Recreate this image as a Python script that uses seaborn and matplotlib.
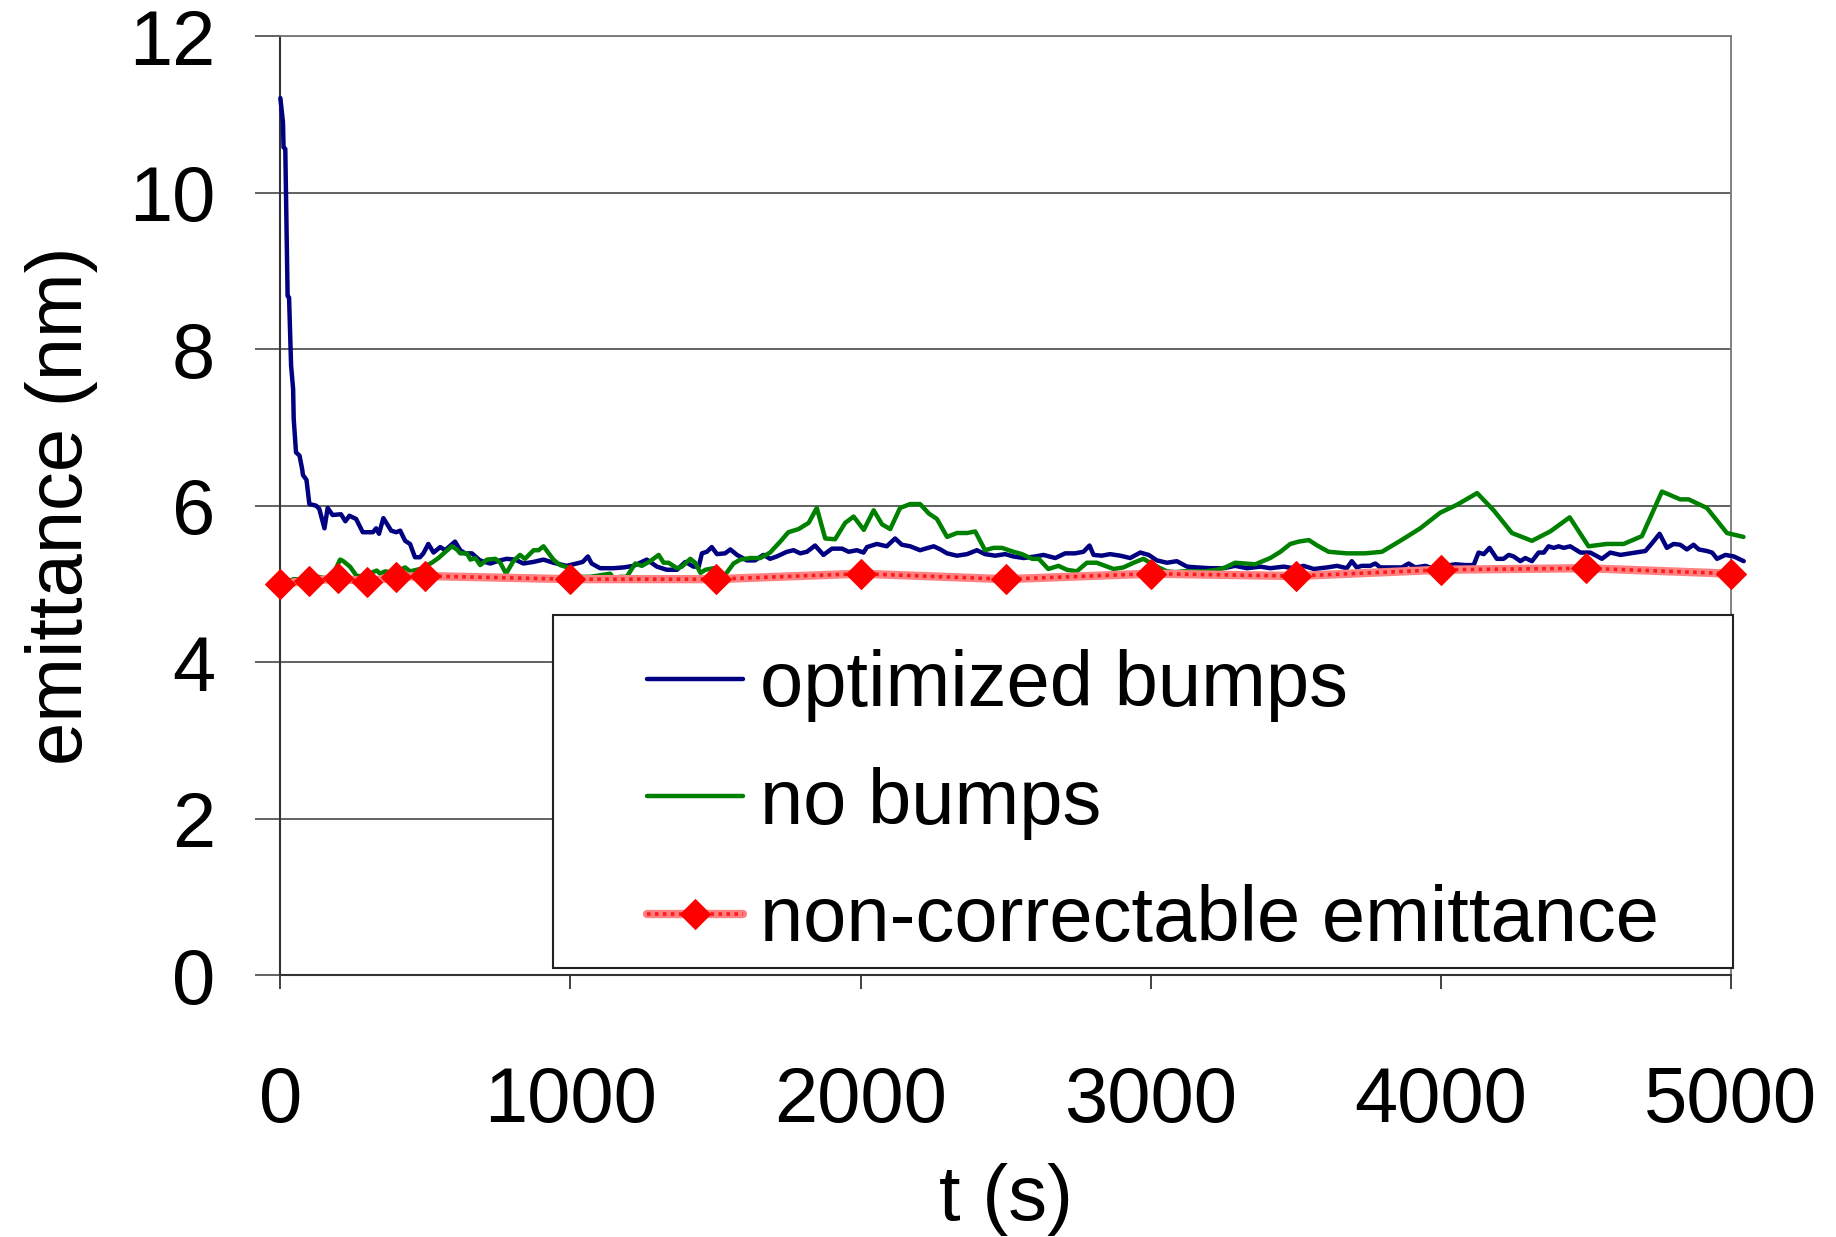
import matplotlib
matplotlib.use("Agg")
import matplotlib.pyplot as plt
from matplotlib.patches import Rectangle
from matplotlib.legend_handler import HandlerTuple
import seaborn as sns
import pandas as pd

# ---- data ----
t_opt = [0, 9, 11, 17, 25, 30, 37, 44, 46, 54, 66, 75, 78, 90, 100, 123, 134, 152, 163, 180,
         209, 224, 238, 261, 284, 319, 330, 340, 355, 382, 399,
         413, 430, 447, 464, 481, 493, 510, 528, 551, 568, 602, 620, 637, 660, 688, 723, 757,
         780, 809, 838, 872, 907, 941, 987, 1021, 1042, 1060, 1073, 1102, 1148, 1183, 1217,
         1263, 1298, 1332, 1367, 1396, 1424, 1442, 1453, 1470, 1487, 1505, 1533, 1551, 1574,
         1608, 1636, 1665, 1688, 1711, 1746, 1769, 1792, 1815, 1843, 1872, 1901, 1936, 1959,
         1987, 2010, 2022, 2056,
         2090, 2119, 2142, 2171, 2205, 2223, 2252, 2275, 2298, 2332, 2367, 2401, 2429, 2464,
         2498, 2527, 2562, 2602, 2630, 2671, 2705, 2739, 2768, 2789, 2803, 2831, 2860, 2895,
         2929, 2964, 2993, 3021, 3056, 3090, 3125, 3159, 3205, 3251, 3291, 3332, 3378, 3412,
         3458, 3492, 3527, 3562, 3608, 3642,
         3676, 3693, 3710, 3727, 3756, 3774, 3791, 3826, 3866, 3889, 3912, 3947, 3970, 3998,
         4050, 4084, 4113, 4130, 4148, 4168, 4193, 4216, 4234, 4251, 4274, 4291, 4314, 4337,
         4355, 4371, 4389, 4406, 4423, 4446, 4481, 4515, 4555, 4584, 4619, 4653, 4705, 4728,
         4754, 4779, 4802, 4825, 4848, 4871, 4889, 4917, 4935, 4952, 4981, 5010, 5044]
e_opt = [11.21, 10.90, 10.58, 10.56, 8.68, 8.66, 7.79, 7.49, 7.11, 6.68, 6.64, 6.47, 6.39, 6.33,
         6.02, 6.00, 5.96, 5.71, 5.97, 5.88, 5.89, 5.80, 5.87, 5.83, 5.66, 5.66, 5.71, 5.64,
         5.84, 5.68, 5.66,
         5.68, 5.55, 5.51, 5.34, 5.34, 5.39, 5.51, 5.40, 5.47, 5.43, 5.54, 5.43, 5.39, 5.39,
         5.30, 5.26, 5.30, 5.32, 5.31, 5.26, 5.28, 5.31, 5.27, 5.23, 5.26, 5.28, 5.35, 5.26,
         5.20, 5.20, 5.21, 5.23, 5.31, 5.22, 5.18, 5.18, 5.28, 5.22, 5.22, 5.39, 5.41, 5.47,
         5.38, 5.39, 5.44, 5.37, 5.30, 5.30, 5.37, 5.32, 5.35, 5.41, 5.43, 5.39, 5.41, 5.49,
         5.37, 5.45, 5.45, 5.41, 5.43, 5.40, 5.47, 5.51,
         5.48, 5.58, 5.50, 5.48, 5.43, 5.45, 5.48, 5.44, 5.39, 5.36, 5.38, 5.43, 5.38, 5.36,
         5.38, 5.35, 5.33, 5.35, 5.37, 5.33, 5.39, 5.39, 5.41, 5.49, 5.37, 5.36, 5.38, 5.36,
         5.33, 5.40, 5.37, 5.30, 5.27, 5.29, 5.22, 5.21, 5.20, 5.20, 5.23, 5.20, 5.22, 5.20,
         5.22, 5.20, 5.23, 5.19, 5.21, 5.23,
         5.20, 5.29, 5.21, 5.23, 5.23, 5.26, 5.21, 5.21, 5.21, 5.26, 5.21, 5.23, 5.20, 5.22,
         5.25, 5.24, 5.24, 5.40, 5.38, 5.46, 5.32, 5.32, 5.37, 5.35, 5.29, 5.33, 5.29, 5.40,
         5.40, 5.48, 5.46, 5.48, 5.46, 5.48, 5.40, 5.40, 5.32, 5.40, 5.37, 5.39, 5.42, 5.52,
         5.64, 5.46, 5.51, 5.50, 5.44, 5.50, 5.44, 5.42, 5.40, 5.32, 5.37, 5.35, 5.29]

t_nob = [0, 46, 102, 131, 160, 183, 206, 217, 240, 263, 286, 332, 344, 361, 390,
         430, 447, 482, 522, 545, 563, 591, 608, 620, 643, 655, 672, 689, 712, 741, 758, 778,
         803, 826, 843, 873, 890, 907, 941, 964, 999, 1033, 1068, 1102, 1137, 1148, 1171, 1194,
         1223, 1246, 1275, 1304, 1321, 1338, 1367, 1384, 1413, 1430, 1448, 1465, 1494, 1528,
         1562, 1585, 1620, 1654, 1688, 1723, 1751, 1786, 1821, 1849, 1878, 1912, 1947, 1976,
         2011, 2045, 2074, 2102, 2136,
         2171, 2205, 2235, 2263, 2298, 2332, 2367, 2395, 2429, 2458, 2487, 2527, 2556, 2591,
         2614, 2647, 2682, 2711, 2745, 2780, 2814, 2843, 2872, 2906, 2941, 2975, 2998, 3027,
         3056, 3085, 3113, 3148, 3188, 3228, 3257, 3291, 3326, 3360, 3412, 3447, 3481, 3510,
         3545, 3574, 3613, 3676, 3739, 3797, 3860, 3929, 3998, 4055, 4125, 4182, 4245, 4314,
         4377, 4444, 4509, 4572, 4630, 4693, 4762, 4825, 4854, 4917, 4986, 5043]
e_nob = [5.00, 5.06, 5.05, 5.09, 5.07, 5.13, 5.31, 5.29, 5.22, 5.10, 5.10, 5.17, 5.13, 5.16, 5.14,
         5.21, 5.16, 5.19, 5.27, 5.33, 5.39, 5.48, 5.44, 5.39, 5.39, 5.31, 5.33, 5.24, 5.31,
         5.32, 5.27, 5.13, 5.29, 5.37, 5.32, 5.43, 5.43, 5.48, 5.31, 5.24, 5.20, 5.09, 5.09,
         5.11, 5.13, 5.07, 5.09, 5.09, 5.26, 5.23, 5.29, 5.37, 5.27, 5.27, 5.20, 5.22, 5.32,
         5.27, 5.14, 5.18, 5.20, 5.09, 5.26, 5.31, 5.33, 5.33, 5.40, 5.54, 5.66, 5.70, 5.78,
         5.97, 5.58, 5.57, 5.78, 5.86, 5.69, 5.94, 5.76, 5.70, 5.97,
         6.02, 6.02, 5.90, 5.83, 5.60, 5.65, 5.65, 5.67, 5.43, 5.46, 5.46, 5.41, 5.38, 5.32,
         5.32, 5.19, 5.23, 5.18, 5.16, 5.27, 5.27, 5.23, 5.19, 5.21, 5.27, 5.32, 5.27, 5.21,
         5.16, 5.15, 5.16, 5.16, 5.16, 5.18, 5.21, 5.27, 5.26, 5.25, 5.33, 5.41, 5.51, 5.54,
         5.56, 5.49, 5.41, 5.39, 5.39, 5.41, 5.55, 5.71, 5.91, 6.01, 6.16, 5.94, 5.65, 5.55,
         5.67, 5.85, 5.48, 5.51, 5.51, 5.61, 6.18, 6.08, 6.08, 5.97, 5.65, 5.60]

t_nc = [0, 100, 200, 300, 400, 500, 1000, 1500, 2000, 2500, 3000, 3500, 4000, 4500, 5000]
e_nc = [5.00, 5.04, 5.07, 5.03, 5.09, 5.10, 5.06, 5.06, 5.13, 5.06, 5.13, 5.10, 5.18, 5.20, 5.13]

labels = ["optimized bumps", "no bumps", "non-correctable emittance"]
x_ticks = [0, 1000, 2000, 3000, 4000, 5000]
y_ticks = [0, 2, 4, 6, 8, 10, 12]

# ---- style ----
sns.set_style("white")
plt.rcParams["font.family"] = ["Liberation Sans", "DejaVu Sans"]
plt.rcParams["text.color"] = "black"
plt.rcParams["axes.labelcolor"] = "black"
FS = 56

fig = plt.figure(figsize=(18.36, 12.37), dpi=100)
ax = fig.add_axes([0.1527, 0.2118, 0.7901, 0.7589])

df_opt = pd.DataFrame({"t": t_opt, "e": e_opt})
df_nob = pd.DataFrame({"t": t_nob, "e": e_nob})
df_nc = pd.DataFrame({"t": t_nc, "e": e_nc})

sns.lineplot(data=df_opt, x="t", y="e", ax=ax, color="#000080", lw=3.2,
             estimator=None, sort=False, clip_on=False, zorder=3)
sns.lineplot(data=df_nob, x="t", y="e", ax=ax, color="#008000", lw=3.2,
             estimator=None, sort=False, clip_on=False, zorder=4)
sns.lineplot(data=df_nc, x="t", y="e", ax=ax, color="#ff8080", lw=6.0,
             estimator=None, sort=False, clip_on=False, zorder=5)
sns.lineplot(data=df_nc, x="t", y="e", ax=ax, color="#ff1a1a", lw=2.6,
             linestyle=(0, (1, 1.2)), estimator=None, sort=False,
             marker="D", markersize=15, markerfacecolor="#ff0000",
             markeredgecolor="#ff0000", clip_on=False, zorder=6)
l_opt, l_nob, l_base, l_over = ax.get_lines()[:4]

ax.set_xlim(0, 5000)
ax.set_ylim(0, 12)
ax.set_xticks(x_ticks)
ax.set_yticks(y_ticks)
ax.set_xticklabels([str(v) for v in x_ticks])
ax.set_yticklabels([str(v) for v in y_ticks])

ax.grid(axis="y", color="#555555", lw=1.3)
ax.grid(axis="x", visible=False)
ax.set_axisbelow(True)

for side in ["top", "right"]:
    ax.spines[side].set_color("#777777")
    ax.spines[side].set_linewidth(1.3)
for side in ["left", "bottom"]:
    ax.spines[side].set_color("#333333")
    ax.spines[side].set_linewidth(1.5)

ax.tick_params(axis="x", direction="out", length=10, width=1.3, pad=55,
               labelsize=FS, labelcolor="black", color="#333333", bottom=True)
ax.tick_params(axis="y", direction="out", length=18, width=1.3, pad=29,
               labelsize=FS, labelcolor="black", color="#555555", left=True)

ax.set_xlabel("t (s)", fontsize=FS, labelpad=18, color="black")
ax.set_ylabel("emittance (nm)", fontsize=FS, labelpad=22, color="black")

# legend box
rect = Rectangle((0.188, 0.0075), 0.8134, 0.376, transform=ax.transAxes,
                 facecolor="white", edgecolor="#222222", lw=1.5, clip_on=False, zorder=7)
ax.add_patch(rect)
leg = ax.legend([l_opt, l_nob, (l_base, l_over)], labels,
                handler_map={tuple: HandlerTuple(ndivide=1, pad=0)},
                loc="center left", bbox_to_anchor=(0.2528, 0.183), frameon=False,
                fontsize=FS, handlelength=1.23, handletextpad=0.22, borderpad=0,
                borderaxespad=0, labelspacing=0.575, numpoints=1)
for txt in leg.get_texts():
    txt.set_color("black")
leg.set_zorder(8)

fig.savefig("out.png", dpi=100)
